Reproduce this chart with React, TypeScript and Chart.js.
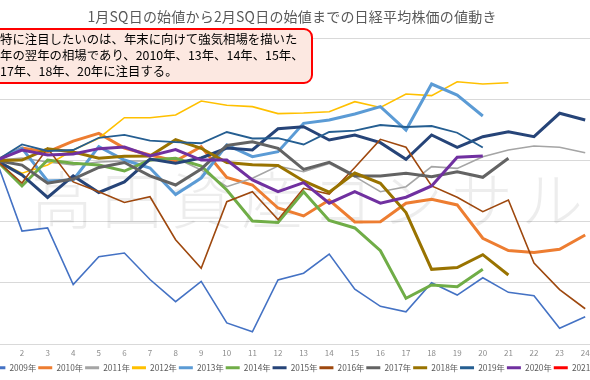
import React, { useEffect, useRef } from 'react';
import { Chart, registerables } from 'chart.js';

Chart.register(...registerables);

// ---- data (percent change from 1月SQ始値) ----
const days = [1, 2, 3, 4, 5, 6, 7, 8, 9, 10, 11, 12, 13, 14, 15, 16, 17, 18, 19, 20, 21, 22, 23, 24];

const y2009 = [0, -5.77, -5.52, -10.14, -7.87, -7.57, -9.73, -11.54, -9.88, -13.28, -14.0, -9.77, -9.22, -7.65, -10.53, -11.92, -12.37, -9.99, -11.0, -9.59, -10.78, -11.05, -13.72, -12.77];
const y2010 = [0, 1.01, 0.69, 1.58, 2.21, 1.01, 0.44, -0.05, 1.12, -1.4, -2.01, -3.89, -4.54, -3.24, -5.03, -5.01, -3.5, -3.18, -3.64, -6.36, -7.36, -7.52, -7.26, -6.09];
const y2011 = [0, 0.2, -0.13, -0.38, -0.13, -0.05, -0.05, 0.2, -0.78, -2.15, -1.46, -0.46, -0.92, -0.25, -1.33, -2.56, -2.15, -0.51, -0.65, 0.3, 0.85, 1.18, 1.07, 0.63];
const y2012 = [0, -1.05, -0.38, 0.85, 1.81, 3.49, 3.49, 3.71, 4.85, 4.5, 4.39, 3.82, 3.87, 3.98, 4.8, 4.32, 5.42, 5.29, 6.43, 6.24, 6.35];
const y2013 = [0, 0.99, -1.68, -1.6, 1.12, 0.03, -0.62, -2.79, -1.44, 1.26, 0.3, 0.71, 3.03, 3.3, 3.79, 4.39, 2.48, 6.24, 5.34, 3.63];
const y2014 = [0, -2.09, 0.03, -0.24, -0.38, -0.87, 0.03, 0.17, -0.46, -2.42, -4.95, -5.07, -2.56, -4.91, -5.52, -7.38, -11.27, -10.18, -10.32, -8.9];
const y2015 = [0, -1.19, -3.03, -1.27, -2.62, -1.76, 0.11, -0.24, 0.2, 1.01, 0.85, 2.58, 2.75, 1.67, 2.08, 1.45, 0.09, 2.08, 1.07, 1.94, 2.34, 1.94, 3.85, 3.3];
const y2016 = [0, -1.85, 0.99, -1.76, -2.56, -3.44, -2.97, -6.48, -8.82, -3.37, -2.56, -4.84, -2.28, -2.75, -0.58, 1.72, 1.07, -2.09, -3.01, -4.19, -3.24, -8.38, -10.56, -12.12];
const y2017 = [0, -0.38, -1.87, -1.52, -0.58, -0.17, -1.27, -2.01, -0.7, 1.22, 1.53, 0.99, -0.73, -0.15, -1.27, -1.27, -1.05, -1.33, -0.92, -1.38, 0.17];
const y2018 = [0, 0.03, 0.95, 0.69, 0.17, 0.33, 0.36, 1.69, 0.99, -0.17, -0.35, -0.42, -1.68, -2.6, -1.03, -1.87, -4.26, -8.9, -8.75, -7.7, -9.36];
const y2019 = [0, 1.3, 0.77, 0.85, 1.85, 2.08, 1.61, 1.5, 1.4, 2.32, 1.79, 1.81, 1.3, 2.32, 2.43, 2.89, 2.73, 2.81, 2.26, 1.05];
const y2020 = [0, 0.85, 0.44, 0.52, 0.96, 1.09, 0.36, 0.89, 0.03, 0.03, -1.6, -2.56, -1.82, -3.5, -2.56, -3.5, -3.01, -2.09, 0.25, 0.36];
const y2021: number[] = [];

const seriesNames = ['2009年', '2010年', '2011年', '2012年', '2013年', '2014年', '2015年', '2016年', '2017年', '2018年', '2019年', '2020年', '2021年'];
const seriesValues = [y2009, y2010, y2011, y2012, y2013, y2014, y2015, y2016, y2017, y2018, y2019, y2020, y2021];
const seriesColors = ['#4472C4', '#ED7D31', '#A5A5A5', '#FFC000', '#5B9BD5', '#70AD47', '#264478', '#9E480E', '#636363', '#997300', '#255E91', '#7030A0', '#FF0000'];
const seriesWidths = [1.6, 3, 1.6, 1.6, 3, 3, 3, 1.6, 3, 3, 1.8, 3, 3];

const yTicks = { min: -15, max: 10, step: 5 };

const TITLE = '1月SQ日の始値から2月SQ日の始値までの日経平均株価の値動き';
const NOTE_LINES = [
  '特に注目したいのは、年末に向けて強気相場を描いた',
  '年の翌年の相場であり、2010年、13年、14年、15年、',
  '17年、18年、20年に注目する。',
];
const WATERMARK = '高田資産コンサルティング';

const FONT = "'Noto Sans CJK JP', 'Noto Sans', sans-serif";

const CANVAS_LEFT = -30;
const CANVAS_W = 650;
const CANVAS_H = 380;

export default function App() {
  const ref = useRef<HTMLCanvasElement>(null);

  useEffect(() => {
    document.body.style.margin = '0';
    const canvas = ref.current!;

    const watermark = {
      id: 'watermark',
      beforeDatasetsDraw(chart: any) {
        const ctx = chart.ctx as CanvasRenderingContext2D;
        ctx.save();
        ctx.font = `300 62px ${FONT}`;
        ctx.fillStyle = 'rgba(0,0,0,0.07)';
        ctx.textBaseline = 'middle';
        (ctx as any).letterSpacing = '8px';
        ctx.fillText(WATERMARK, 31 - CANVAS_LEFT, 200);
        ctx.restore();
      },
    };

    const chart = new Chart(canvas, {
      type: 'line',
      data: {
        datasets: seriesNames.map((name, i) => ({
          label: name,
          data: seriesValues[i].map((v, k) => ({ x: days[k], y: v })),
          borderColor: seriesColors[i],
          backgroundColor: seriesColors[i],
          borderWidth: seriesWidths[i],
          pointRadius: 0,
          pointHoverRadius: 0,
          tension: 0,
          fill: false,
          order: seriesNames.length - i,
        })),
      },
      options: {
        animation: false,
        responsive: false,
        maintainAspectRatio: false,
        events: [],
        layout: { padding: { left: 10, right: 10, top: 38, bottom: -2 } },
        scales: {
          x: {
            type: 'linear',
            min: 0.359375,
            max: 24.96875,
            grid: { display: false, drawTicks: false },
            border: { display: false },
            ticks: {
              stepSize: 1,
              autoSkip: false,
              maxRotation: 0,
              includeBounds: false,
              padding: 4,
              color: '#8c8c8c',
              font: { family: FONT, size: 8 },
              callback: (v: any) => (Number.isInteger(v) ? String(v) : ''),
            },
            afterFit: (scale: any) => {
              scale.height = 17.7;
            },
          },
          y: {
            type: 'linear',
            min: yTicks.min,
            max: yTicks.max,
            ticks: { display: false, stepSize: yTicks.step },
            grid: { color: '#d9d9d9', lineWidth: 1, drawTicks: false },
            border: { display: false },
          },
        },
        plugins: {
          title: { display: false },
          tooltip: { enabled: false },
          legend: {
            display: true,
            position: 'bottom',
            labels: {
              boxWidth: 14,
              boxHeight: 3,
              padding: 2,
              color: '#595959',
              font: { family: FONT, size: 8.3 },
              generateLabels: (ch: any) =>
                ch.data.datasets.map((ds: any, i: number) => ({
                  text: ds.label,
                  fillStyle: seriesColors[i],
                  strokeStyle: seriesColors[i],
                  lineWidth: 0,
                  hidden: false,
                  datasetIndex: i,
                  fontColor: '#595959',
                })),
            },
          },
        },
      },
      plugins: [watermark],
    } as any);

    return () => chart.destroy();
  }, []);

  return (
    <div
      style={{
        position: 'fixed',
        left: 0,
        top: 0,
        width: 590,
        height: 380,
        overflow: 'hidden',
        background: '#ffffff',
        fontFamily: FONT,
      }}
    >
      <div style={{ position: 'absolute', left: CANVAS_LEFT, top: 0, width: CANVAS_W, height: CANVAS_H }}>
        <canvas ref={ref} width={CANVAS_W} height={CANVAS_H} style={{ width: CANVAS_W, height: CANVAS_H, display: 'block' }} />
      </div>
      <div
        style={{
          position: 'absolute',
          left: -3,
          top: 6,
          width: 590,
          textAlign: 'center',
          fontSize: 14,
          letterSpacing: '0.2px',
          lineHeight: '20px',
          color: '#595959',
          whiteSpace: 'nowrap',
        }}
      >
        {TITLE}
      </div>
      <div
        style={{
          position: 'absolute',
          left: -20,
          top: 28,
          width: 333,
          height: 56,
          boxSizing: 'border-box',
          border: '2px solid #FF0000',
          borderRadius: 9,
          background: '#FCE8E1',
        }}
      />
      <div
        style={{
          position: 'absolute',
          left: 0,
          top: 31,
          fontSize: 12.4,
          lineHeight: '16px',
          color: '#000000',
          whiteSpace: 'nowrap',
        }}
      >
        {NOTE_LINES.map((l, i) => (
          <div key={i}>{l}</div>
        ))}
      </div>
    </div>
  );
}
